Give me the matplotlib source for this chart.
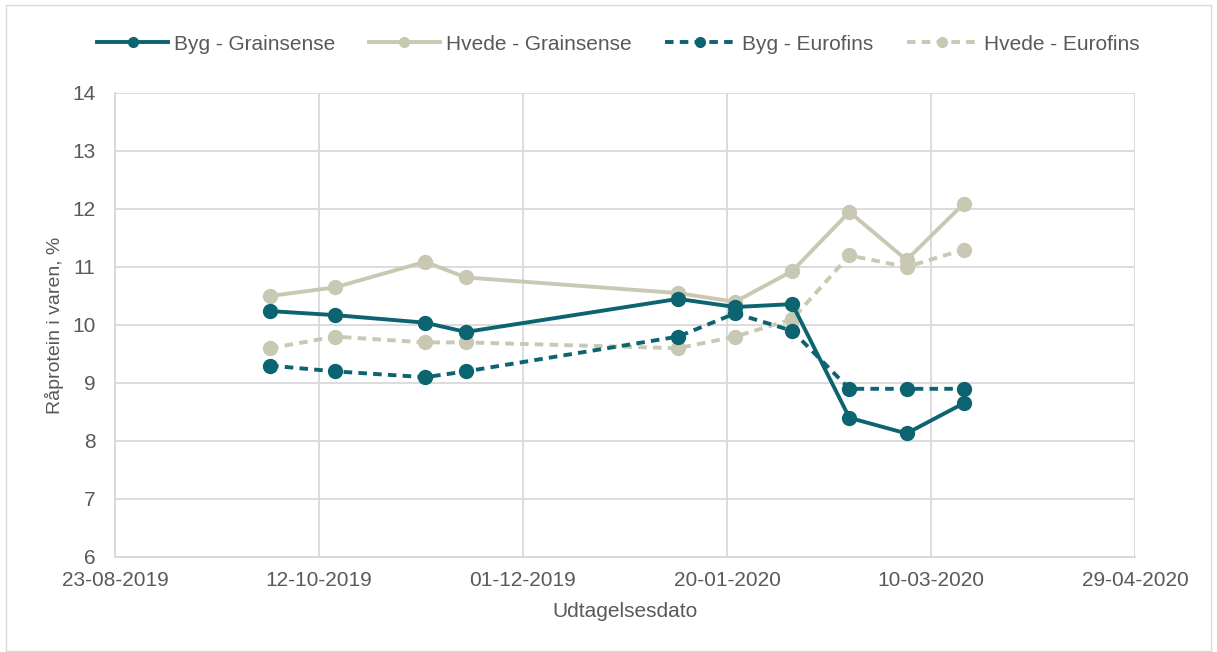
import matplotlib
matplotlib.use("Agg")
import matplotlib.pyplot as plt
import matplotlib.dates as mdates
from matplotlib.patches import Rectangle
import datetime as dt

plt.rcParams["font.family"] = ["Liberation Sans", "DejaVu Sans"]

dates = ["2019-09-30", "2019-10-16", "2019-11-07", "2019-11-17", "2020-01-08",
         "2020-01-22", "2020-02-05", "2020-02-19", "2020-03-04", "2020-03-18"]
byg_grainsense = [10.24, 10.17, 10.04, 9.88, 10.45, 10.31, 10.36, 8.40, 8.13, 8.65]
hvede_grainsense = [10.50, 10.65, 11.09, 10.82, 10.55, 10.40, 10.93, 11.95, 11.12, 12.09]
byg_eurofins = [9.3, 9.2, 9.1, 9.2, 9.8, 10.2, 9.9, 8.9, 8.9, 8.9]
hvede_eurofins = [9.6, 9.8, 9.7, 9.7, 9.6, 9.8, 10.1, 11.2, 11.0, 11.3]
tick_dates = ["2019-08-23", "2019-10-12", "2019-12-01", "2020-01-20", "2020-03-10", "2020-04-29"]

x = [dt.datetime.strptime(d, "%Y-%m-%d") for d in dates]
xt = [dt.datetime.strptime(d, "%Y-%m-%d") for d in tick_dates]

teal = "#0B6470"
beige = "#C9C8B3"
grid = "#D9D9D9"
txt = "#595959"

fig = plt.figure(figsize=(12.17, 6.52), dpi=100)
ax = fig.add_axes([115/1217, 1-557/652, (1135-115)/1217, (557-93)/652])

ax.plot(x, byg_grainsense, color=teal, lw=2.8, marker="o", ms=10, label="Byg - Grainsense", zorder=4)
ax.plot(x, hvede_grainsense, color=beige, lw=2.8, marker="o", ms=10, label="Hvede - Grainsense", zorder=3)
ax.plot(x, byg_eurofins, color=teal, lw=2.8, ls=(0, (2.2, 1.6)), marker="o", ms=10, label="Byg - Eurofins", zorder=4)
ax.plot(x, hvede_eurofins, color=beige, lw=2.8, ls=(0, (2.2, 1.6)), marker="o", ms=10, label="Hvede - Eurofins", zorder=3)

ax.set_xlim(xt[0], xt[-1])
ax.set_ylim(6, 14)
ax.set_xticks(xt)
ax.xaxis.set_major_formatter(mdates.DateFormatter("%d-%m-%Y"))
ax.set_yticks(range(6, 15))
ax.grid(True, color=grid, lw=1.3)
ax.set_axisbelow(True)
for s in ["top", "right"]:
    ax.spines[s].set_visible(False)
for s in ["left", "bottom"]:
    ax.spines[s].set_color(grid)
    ax.spines[s].set_linewidth(1.3)
ax.tick_params(axis="both", length=0, labelsize=15, colors=txt)
ax.tick_params(axis="x", pad=10)
ax.tick_params(axis="y", pad=14)
ax.set_xlabel("Udtagelsesdato", fontsize=15, color=txt, labelpad=9)
ax.set_ylabel("Råprotein i varen, %", fontsize=14, color=txt, labelpad=6)

fig.legend(loc="center", bbox_to_anchor=(0.508, 1-44/652), ncol=4, frameon=False,
           fontsize=15, labelcolor=txt, handlelength=3.4, columnspacing=1.6, handletextpad=0.3,
           markerscale=0.7)

fig.patches.append(Rectangle((6/1217, 0.002), 1 - 12/1217, 0.99, transform=fig.transFigure,
                             fill=False, edgecolor=grid, lw=1))

fig.savefig("out.png", dpi=100)
